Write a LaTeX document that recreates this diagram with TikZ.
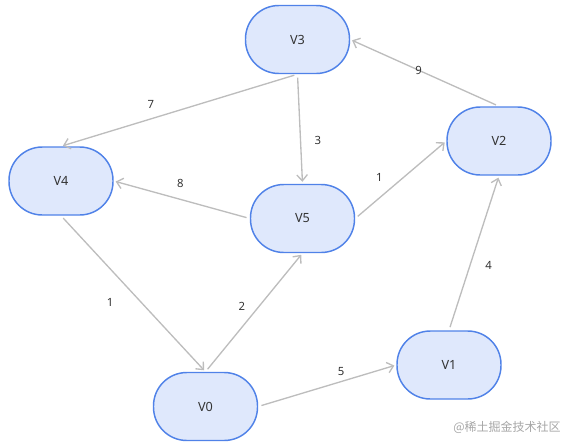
\documentclass[tikz,border=0pt]{standalone}
\usepackage{fontspec}
\setmainfont{Noto Sans}
\newfontfamily\cjkfont{Noto Sans CJK SC}
\usetikzlibrary{arrows.meta}

\definecolor{vfill}{HTML}{DFE8FC}
\definecolor{vline}{HTML}{5082E8}
\definecolor{eline}{HTML}{BDBDBD}
\definecolor{vtext}{HTML}{333333}

\begin{document}
\begin{tikzpicture}[x=0.75pt,y=-0.75pt,
	vertex/.style={draw=vline,fill=vfill,line width=1.1pt,rounded corners=25pt,
		minimum width=78pt,minimum height=51pt,text=vtext,font=\fontsize{9.5}{11}\selectfont},
	edge/.style={draw=eline,line width=1pt,-{Straight Barb[length=4.5pt,width=8pt]},
		shorten <=2.5pt,shorten >=1.5pt},
	weight/.style={text=vtext,inner sep=0pt,font=\fontsize{8.5}{10}\selectfont}]

	% frame
	\useasboundingbox (0,0) rectangle (571,446);

	% vertices
	\node[vertex] (v3) at (297.5,39.5) {V3};
	\node[vertex] (v4) at (61,181) {V4};
	\node[vertex] (v5) at (302.5,218.5) {V5};
	\node[vertex] (v2) at (499,141) {V2};
	\node[vertex] (v0) at (205.5,406.5) {V0};
	\node[vertex] (v1) at (449,365) {V1};

	% weighted edges
	\draw[edge] (v3.south) -- node[weight,pos=0.62,above=7pt] {7} (v4.north);
	\draw[edge] (v3.south) -- node[weight,pos=0.6,right=10pt] {3} (v5.north);
	\draw[edge] (v2.north) -- node[weight,pos=0.54] {9} (v3.east);
	\draw[edge] (v5.west) -- node[weight,pos=0.51,above=8pt] {8} (v4.east);
	\draw[edge] (v5.east) -- node[weight,pos=0.38,above left=5pt] {1} (v2.west);
	\draw[edge] (v4.south) -- node[weight,pos=0.45,below left=9pt] {1} (v0.north);
	\draw[edge] (v0.north) -- node[weight,pos=0.47,above left=4pt] {2} (v5.south);
	\draw[edge] (v0.east) -- node[weight,pos=0.6,above=4pt] {5} (v1.west);
	\draw[edge] (v1.north) -- node[weight,pos=0.42,right=11pt] {4} (v2.south);

	% watermark
	\node[text=gray!70,font=\cjkfont\fontsize{9}{10}\selectfont] (mark) at (507,427) {@稀土掘金技术社区};

\end{tikzpicture}
\end{document}
